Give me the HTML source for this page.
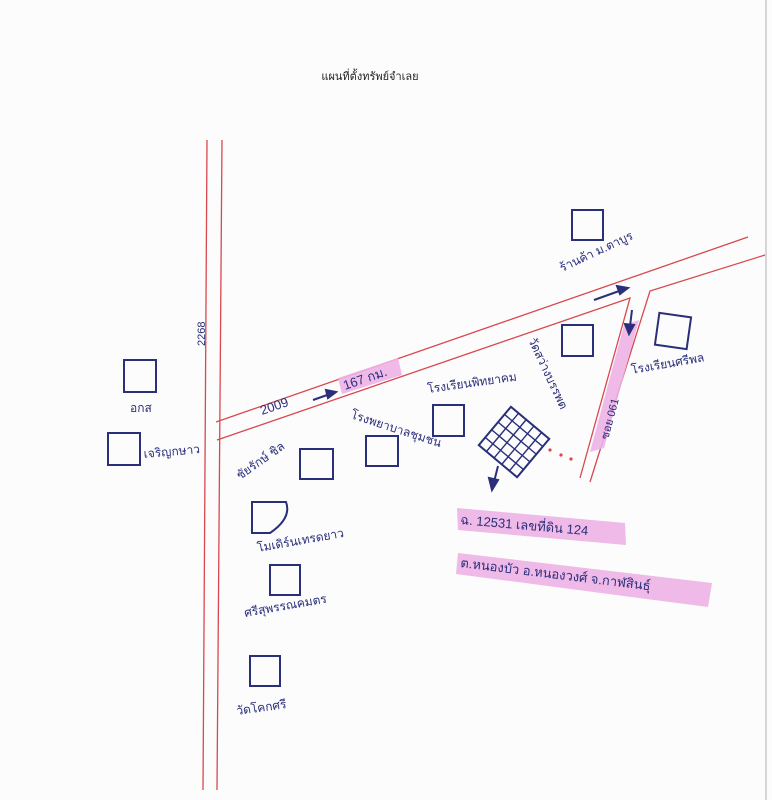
<!DOCTYPE html>
<html><head><meta charset="utf-8"><style>
html,body{margin:0;padding:0;background:#fff}
svg{display:block}
text{font-family:"Liberation Sans","Noto Sans CJK SC",sans-serif;fill:#2a2f7a}
</style></head><body>
<svg width="772" height="800" viewBox="0 0 772 800" xmlns="http://www.w3.org/2000/svg">
<rect width="772" height="800" fill="#fcfcfc"/>
<line x1="766" y1="0" x2="766" y2="800" stroke="#d6d6d6" stroke-width="2"/>
<text x="370" y="80" font-size="11" fill="#222" style="fill:#222" text-anchor="middle">แผนที่ตั้งทรัพย์จำเลย</text>
<g stroke="#d9474f" stroke-width="1.3" fill="none">
<line x1="207" y1="140" x2="203" y2="790"/>
<line x1="222" y1="140" x2="217" y2="790"/>
<line x1="216" y1="422" x2="748" y2="237"/>
<polyline points="217,440 630,298 580,478"/>
<polyline points="590,482 650,291 765,255"/>
</g>
<g fill="#eeb2e6" opacity="0.9">
<polygon points="338,378 398,358 402,375 342,394"/>
<polygon points="624,325 639,320 604,448 590,452"/>
<polygon points="457,508 625,523 626,545 458,530"/>
<polygon points="458,553 712,583 708,607 456,574"/>
</g>
<text x="345" y="390" font-size="13" transform="rotate(-19 345 390)">167 กม.</text>
<text x="262" y="415" font-size="13" transform="rotate(-19 262 415)">2009</text>
<text x="608" y="440" font-size="11" transform="rotate(-75 608 440)">ซอย 061</text>
<text x="205" y="346" font-size="11" transform="rotate(-90 205 346)">2268</text>
<text x="460" y="524" font-size="13" transform="rotate(5 460 524)">ฉ. 12531  เลขที่ดิน 124</text>
<text x="460" y="567" font-size="13" transform="rotate(7 460 567)">ต.หนองบัว  อ.หนองวงศ์  จ.กาฬสินธุ์</text>
<g stroke="#2a2f7a" stroke-width="2" fill="#2a2f7a">
<line x1="313" y1="400" x2="330" y2="394"/><polygon points="336,392 326,390 328,398"/>
<line x1="594" y1="300" x2="622" y2="290"/><polygon points="628,288 617,286 620,294"/>
<line x1="632" y1="310" x2="630" y2="326"/><polygon points="629,334 625,324 634,325"/>
<line x1="498" y1="466" x2="494" y2="482"/><polygon points="492,490 489,478 498,480"/>
</g>
<g stroke="#2a2f7a" stroke-width="2" fill="none">
<rect x="124" y="360" width="32" height="32"/>
<rect x="108" y="433" width="32" height="32"/>
<rect x="300" y="449" width="33" height="30"/>
<rect x="366" y="436" width="32" height="30"/>
<rect x="433" y="405" width="31" height="31"/>
<rect x="562" y="325" width="31" height="31"/>
<rect x="572" y="210" width="31" height="30"/>
<rect x="657" y="315" width="32" height="32" transform="rotate(8 673 331)"/>
<rect x="270" y="565" width="30" height="30"/>
<rect x="250" y="656" width="30" height="30"/>
<path d="M252 502 L286 502 Q292 518 270 533 L252 533 Z"/>
</g>
<g transform="rotate(40 514 442)">
<rect x="489" y="417" width="50" height="50" fill="none" stroke="#2a2f7a" stroke-width="2"/>
<g stroke="#2a2f7a" stroke-width="1.4">
<line x1="489" y1="427" x2="539" y2="427"/><line x1="489" y1="437" x2="539" y2="437"/>
<line x1="489" y1="447" x2="539" y2="447"/><line x1="489" y1="457" x2="539" y2="457"/>
<line x1="499" y1="417" x2="499" y2="467"/><line x1="509" y1="417" x2="509" y2="467"/>
<line x1="519" y1="417" x2="519" y2="467"/><line x1="529" y1="417" x2="529" y2="467"/>
</g></g>
<g fill="#d9474f"><circle cx="550" cy="450" r="1.6"/><circle cx="561" cy="455" r="1.6"/><circle cx="571" cy="459" r="1.6"/></g>
<g font-size="12">
<text x="130" y="412">อกส</text>
<text x="144" y="458" transform="rotate(-5 144 458)">เจริญกษาว</text>
<text x="240" y="480" transform="rotate(-35 240 480)">ชัยรักษ์ ชิล</text>
<text x="350" y="418" transform="rotate(18 350 418)">โรงพยาบาลชุมชน</text>
<text x="428" y="393" transform="rotate(-8 428 393)">โรงเรียนพิทยาคม</text>
<text x="528" y="340" transform="rotate(65 528 340)">วัดสว่างบรรพต</text>
<text x="562" y="272" transform="rotate(-25 562 272)">ร้านค้า ม.ตาบูร</text>
<text x="632" y="374" transform="rotate(-10 632 374)">โรงเรียนศรีพล</text>
<text x="258" y="552" transform="rotate(-10 258 552)">โมเดิร์นเทรดยาว</text>
<text x="245" y="617" transform="rotate(-10 245 617)">ศรีสุพรรณคมตร</text>
<text x="237" y="715" transform="rotate(-8 237 715)">วัดโคกศรี</text>
</g>
</svg>
</body></html>
